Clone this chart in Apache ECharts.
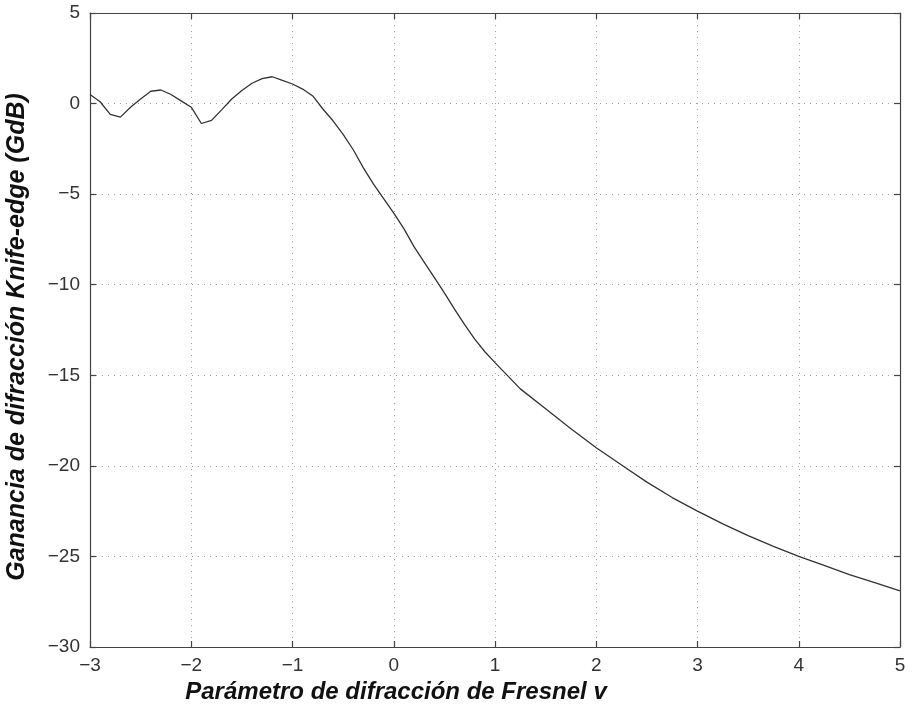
<!DOCTYPE html>
<html>
<head>
<meta charset="utf-8">
<script src="https://cdn.jsdelivr.net/npm/echarts@6/dist/echarts.min.js"></script>
<style>
  html, body { margin: 0; padding: 0; background: #fff; }
  #chart { width: 912px; height: 712px; }
</style>
</head>
<body>
<div id="chart"></div>
<script>
// Fresnel parameter v
const vValues = [
    -3.0, -2.9, -2.8, -2.7, -2.6, -2.5, -2.4, -2.3, -2.2, -2.1,
    -2.0, -1.9, -1.8, -1.7, -1.6, -1.5, -1.4, -1.3, -1.2, -1.1,
    -1.0, -0.9, -0.8, -0.7, -0.6, -0.5, -0.4, -0.3, -0.2, -0.1,
    0.0, 0.1, 0.2, 0.3, 0.4, 0.5, 0.6, 0.7, 0.8, 0.9,
    1.0, 1.25, 1.5, 1.75, 2.0, 2.25, 2.5, 2.75, 3.0, 3.25,
    3.5, 3.75, 4.0, 4.25, 4.5, 4.75, 5.0
];
// knife-edge gain in dB
const gainDb = [
    0.5, 0.1, -0.6, -0.75, -0.2, 0.25, 0.68, 0.75, 0.5, 0.15,
    -0.2, -1.1, -0.93, -0.35, 0.25, 0.72, 1.12, 1.38, 1.48, 1.28,
    1.08, 0.8, 0.42, -0.3, -0.95, -1.7, -2.55, -3.55, -4.45, -5.25,
    -6.05, -6.9, -7.9, -8.75, -9.6, -10.45, -11.35, -12.2, -13.0, -13.7,
    -14.3, -15.75, -16.85, -17.95, -19.0, -19.95, -20.9, -21.75, -22.5, -23.2,
    -23.85, -24.45, -25.0, -25.5, -26.0, -26.45, -26.9
];
const xTicks = [-3, -2, -1, 0, 1, 2, 3, 4, 5];
const yTicks = [-30, -25, -20, -15, -10, -5, 0, 5];

const fontFamily = "'Liberation Sans', Arial, sans-serif";

function minusLabel(value) {
    return String(value).replace("-", "\u2212");
}

const chart = echarts.init(document.getElementById("chart"), null, { renderer: "canvas" });

const gridLine = {
    show: true,
    lineStyle: { color: "#a0a0a0", type: [1, 5], width: 1 }
};
const frameLine = { show: true, onZero: false, lineStyle: { color: "#444", width: 1.2 } };
const innerTick = { show: true, inside: true, length: 6, lineStyle: { color: "#444", width: 1.2 } };

chart.setOption({
    animation: false,
    backgroundColor: "#fff",
    grid: { left: 90, right: 12, top: 13, bottom: 65, containLabel: false, outerBoundsMode: "none" },
    xAxis: [
        {
            type: "value",
            min: xTicks[0],
            max: xTicks[xTicks.length - 1],
            interval: 1,
            position: "bottom",
            axisLine: frameLine,
            axisTick: innerTick,
            splitLine: gridLine,
            axisLabel: {
                color: "#333",
                fontSize: 19,
                fontFamily: fontFamily,
                margin: 9,
                formatter: minusLabel
            },
            name: "Parámetro de difracción de Fresnel v",
            nameLocation: "middle",
            nameGap: 32,
            nameTextStyle: {
                color: "#111",
                fontSize: 24,
                fontWeight: "bold",
                fontStyle: "italic",
                fontFamily: fontFamily,
                padding: [0, 198, 0, 0]
            }
        },
        {
            type: "value",
            min: xTicks[0],
            max: xTicks[xTicks.length - 1],
            interval: 1,
            position: "top",
            axisLine: frameLine,
            axisTick: innerTick,
            axisLabel: { show: false },
            splitLine: { show: false }
        }
    ],
    yAxis: [
        {
            type: "value",
            min: yTicks[0],
            max: yTicks[yTicks.length - 1],
            interval: 5,
            position: "left",
            axisLine: frameLine,
            axisTick: innerTick,
            splitLine: gridLine,
            axisLabel: {
                color: "#333",
                fontSize: 19,
                fontFamily: fontFamily,
                margin: 10,
                formatter: minusLabel
            },
            name: "Ganancia de difracción Knife-edge (GdB)",
            nameLocation: "middle",
            nameGap: 60,
            nameTextStyle: {
                color: "#111",
                fontSize: 25,
                fontWeight: "bold",
                fontStyle: "italic",
                fontFamily: fontFamily,
                padding: [0, 14, 0, 0]
            }
        },
        {
            type: "value",
            min: yTicks[0],
            max: yTicks[yTicks.length - 1],
            interval: 5,
            position: "right",
            axisLine: frameLine,
            axisTick: innerTick,
            axisLabel: { show: false },
            splitLine: { show: false }
        }
    ],
    series: [
        {
            type: "line",
            xAxisIndex: 0,
            yAxisIndex: 0,
            data: vValues.map((v, i) => [v, gainDb[i]]),
            showSymbol: false,
            smooth: false,
            lineStyle: { color: "#333", width: 1.3 }
        }
    ]
});
</script>
</body>
</html>
